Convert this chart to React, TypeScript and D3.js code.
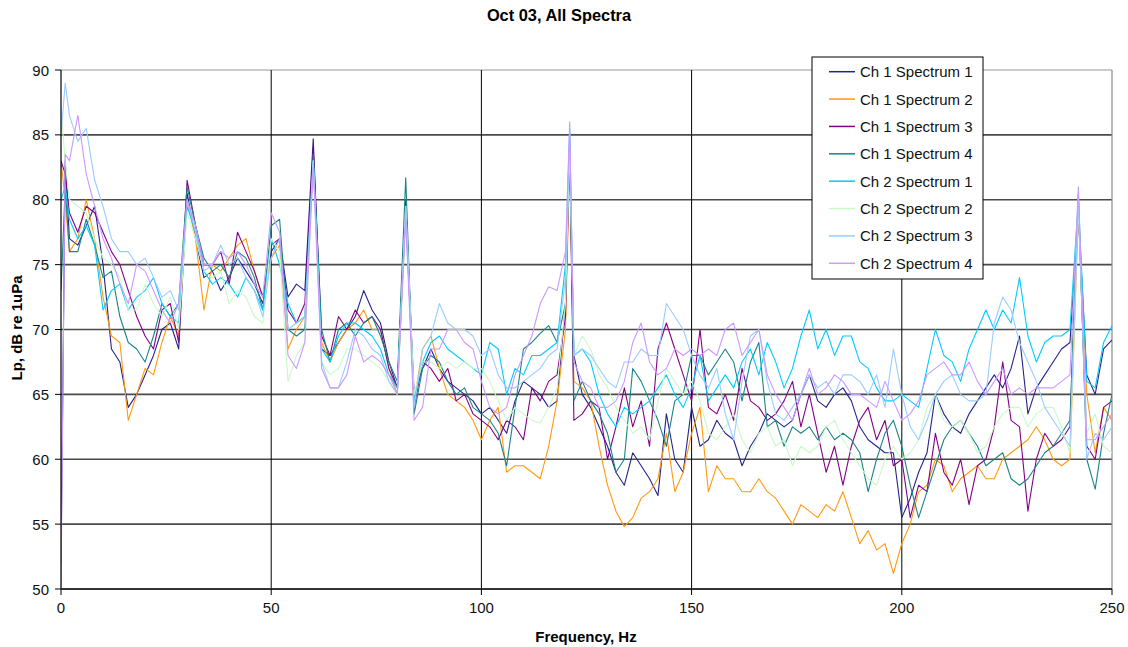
import React from "react";
import * as d3 from "d3";

// Frequencies (Hz) shared by every series
const FREQ = [
  0, 1, 2, 4, 6, 8,
  10, 12, 14, 16, 18,
  20, 22, 24, 26, 28,
  30, 32, 34, 36, 38,
  40, 42, 44, 46, 48,
  50, 52, 54, 56, 58,
  60, 62, 64, 66, 68,
  70, 72, 74, 76, 78,
  80, 82, 84, 86, 88,
  90, 92, 94, 96, 98,
  100, 102, 104, 106, 108,
  110, 112, 114, 116, 118,
  120, 121, 122, 124, 126, 128,
  130, 132, 134, 136, 138,
  140, 142, 144, 146, 148,
  150, 152, 154, 156, 158,
  160, 162, 164, 166, 168,
  170, 172, 174, 176, 178,
  180, 182, 184, 186, 188,
  190, 192, 194, 196, 198,
  200, 202, 204, 206, 208,
  210, 212, 214, 216, 218,
  220, 222, 224, 226, 228,
  230, 232, 234, 236, 238,
  240, 242, 244, 246, 248,
  250,
];

const CH1_S1 = [
  52, 83, 77, 76.5, 78, 79.5,
  75, 68.5, 67.5, 64, 65,
  66.5, 68, 70, 70.5, 68.5,
  80.5, 77, 74, 74.5, 73,
  74, 75.5, 74.5, 73.5, 72,
  76, 77, 72.5, 73.5, 73,
  84.7, 68.5, 68, 69, 70,
  71, 73, 71.5, 70.5, 67.5,
  65.5, 79.5, 65, 67, 68.5,
  67, 66, 65.5, 65, 64.5,
  63.5, 64, 63, 62, 64.5,
  66, 65.5, 65, 64, 64.5,
  72, 84, 68, 65, 64, 62.5,
  61, 59, 58, 60.5, 59.5,
  58.5, 57.2, 63.5, 60, 59,
  64, 61, 61.5, 63, 62,
  61.5, 59.5, 61, 62, 63.5,
  63, 62.5, 63, 65, 66.5,
  64.5, 64, 65, 65.5, 64.5,
  62.5, 61.5, 61, 60.5, 60.5,
  55.5, 57, 59, 60.5, 65,
  63.5, 62.5, 62, 63.5, 64.5,
  65.5, 66.5, 65.5, 67, 69.5,
  63.5, 65.5, 66.5, 67.5, 68.5,
  69, 79, 66.5, 65, 68.5,
  69.2,
];

const CH1_S2 = [
  83, 80, 76, 77, 80, 77,
  72.5, 69.5, 69, 63, 65,
  67, 66.5, 69, 71, 69.5,
  80, 77, 71.5, 75, 74.5,
  75.5, 76.5, 77, 74.5, 72.5,
  75.5, 76.5, 68.5, 70, 71,
  83, 69, 67.5, 69, 70,
  70.5, 71.5, 70, 70, 67,
  65, 79, 64.5, 68.5, 69.5,
  67, 65, 64.5, 64, 63,
  61.5, 63, 64, 59, 59.5,
  59.5, 59, 58.5, 61, 64.5,
  70, 83, 66, 65.5, 64.5, 61,
  58, 56, 54.8, 55.5, 57,
  57.5, 58.5, 62, 57.5, 59,
  62, 64, 57.5, 59.5, 58.5,
  58.5, 57.5, 57.5, 58.5, 57.5,
  57, 56, 55, 56.5, 56,
  55.5, 56.5, 56, 57.5, 55.5,
  53.5, 54.5, 53, 53.5, 51.2,
  53.5, 55, 57.5, 58, 60,
  59.5, 57.5, 58.5, 59, 59.5,
  58.5, 58.5, 60, 60.5, 61,
  61.5, 62.5, 61.5, 60, 59.5,
  60, 79, 65, 60.5, 64,
  63,
];

const CH1_S3 = [
  83, 82, 79, 77.5, 79.5, 79,
  77.5, 76, 75, 73, 71,
  69.5, 68.5, 71.5, 72, 69,
  81.5, 78, 75, 75, 76,
  73.5, 77.5, 76, 74.5, 72.5,
  76.5, 77, 71.5, 70.5, 72,
  84, 69.5, 68, 71, 70,
  71.5, 70.5, 71, 70, 67,
  65.5, 80, 64, 67.5, 67,
  66, 67, 64.5, 65, 63.5,
  63, 62.5, 61.5, 63, 62.5,
  61.5, 65.5, 64.5, 66, 66.5,
  71, 84, 63, 63.5, 64.5, 64,
  60, 62.5, 65.5, 62.5, 64.5,
  61, 68.5, 70.5, 68.5, 66.5,
  64.5, 70, 64, 63.5, 65,
  63, 67, 64.5, 64, 63,
  63.5, 64.5, 66, 62.5, 65,
  62, 59, 61, 58, 61,
  63, 64, 61.5, 63, 59.5,
  60, 55.5, 58, 57.5, 62,
  59, 58, 60, 56.5, 59.5,
  60, 62.5, 67.5, 63, 62.5,
  56, 60, 62, 61, 61.5,
  62.5, 79.5, 61, 60, 64,
  64.5,
];

const CH1_S4 = [
  73, 81, 76, 76, 78.5, 76.5,
  74, 74.5, 71, 69, 68.5,
  67.5, 69.5, 72, 71, 72,
  81, 78, 75.5, 74.5, 75,
  74, 76, 75.5, 74, 71.5,
  78, 78.5, 70, 69.5, 70,
  83.5, 70, 67.5, 70, 70.5,
  69.5, 70.5, 71, 69.5, 67.5,
  66, 81.7, 63.5, 67, 68,
  67.5, 66, 65, 65.5, 64,
  63.5, 63, 62, 59.5, 64,
  68.5, 69, 69.7, 70.3, 69,
  72, 84.5, 64.5, 66, 64.5, 63.5,
  62, 59, 60, 67, 66,
  64.5, 63, 61, 64.5, 65,
  68, 68, 66.5, 67.5, 68.5,
  67.5, 64.5, 67.5, 69, 62.5,
  63, 61, 62.5, 62, 62.5,
  61.5, 62.5, 61.5, 62, 61.5,
  60.5, 57.5, 60, 62, 63,
  61, 58, 55.5, 57.5, 59.5,
  61.5, 62.5, 63, 62, 61,
  59.5, 60, 60.5, 58.5, 58,
  58.5, 59.5, 60.5, 61, 62,
  63, 80.5, 60, 57.7, 62,
  65,
];

const CH2_S1 = [
  80, 81, 78.5, 77, 78, 76.5,
  71.5, 73, 73.5, 71.5, 72.5,
  73, 74, 72, 71, 70.5,
  79.5, 77.5, 74.5, 73.5, 74,
  73.5, 72.5, 74, 73, 71.5,
  77, 75, 72, 70.5, 71,
  83, 68.5, 67.5, 69.5, 70.5,
  70.5, 70, 69.5, 68.5, 66.5,
  65.5, 79, 64.5, 67.5, 69,
  69.5, 68.5, 68, 67.5, 67,
  66.5, 69, 68.5, 65, 67,
  66.5, 68, 68, 68.5, 69,
  75, 85.5, 68, 68.5, 67.5, 65,
  63.5, 62.5, 64, 63.5, 64,
  64.5, 65.5, 66.5, 65, 64,
  65.5, 68, 64.5, 65.5, 66.5,
  65.5, 67.5, 68.5, 66.5, 69,
  67.5, 65.5, 67, 69.5, 71.5,
  68.5, 70, 68, 69.5, 69.5,
  67.5, 67, 65.5, 64.5, 64.5,
  65, 64.5, 64, 67, 70,
  68, 67.5, 66, 68.5, 70,
  71.5, 70, 71.5, 70.5, 74,
  69.5, 67.5, 69, 69.5, 69.5,
  70, 80, 66, 65.5, 69,
  70.3,
];

const CH2_S2 = [
  87, 83, 80, 79.5, 79, 77,
  75.5, 75, 74, 71.5, 71.5,
  73.5, 72, 71, 72.5, 70,
  79, 77, 74.5, 74, 74.5,
  72, 73, 72.5, 71, 70.5,
  77, 76, 66, 68, 69,
  83, 67.5, 66.5, 67, 68.5,
  68.5, 68, 67.5, 67, 66,
  65, 79.5, 65, 67.5, 67.5,
  67, 67.5, 67, 67.5, 67,
  67, 66, 64.5, 63, 64,
  63.5, 63, 62.8, 64, 65.5,
  72, 84, 68, 69.5, 68.5, 66.5,
  65.5, 64, 63, 62, 62.5,
  61.5, 64.5, 67, 66, 65,
  66, 64.5, 62, 61.5, 62.5,
  63.5, 61.5, 60.5, 62, 62.5,
  61, 61.5, 59.5, 61, 60.5,
  61, 62.5, 63, 61.5, 60.5,
  59.5, 58.5, 58, 60, 61,
  60, 60.5, 61.5, 64, 65,
  63, 62.5, 63, 62, 60.5,
  61, 62.5, 63.5, 64, 64,
  62.5, 63.5, 64, 64, 62.5,
  60.5, 79.5, 62, 63.5, 61,
  60.5,
];

const CH2_S3 = [
  85, 89, 86.5, 84.5, 85.5, 81.5,
  79.5, 77, 76, 76, 75,
  75.5, 74, 72.5, 73, 71.5,
  80, 77.5, 74.5, 75, 76.5,
  75, 75.5, 74, 73, 71,
  75.5, 77, 70, 70.5, 71,
  83, 67.5, 65.5, 65.5, 67.5,
  70, 69.5, 68.5, 68, 66,
  65, 79.5, 64, 68.5, 69.5,
  72, 70.5, 70, 70, 69.5,
  68, 68.5, 66.5, 65.5, 65.5,
  66, 66.5, 67, 68, 68.5,
  74, 85, 68, 68.5, 68, 67,
  66, 65.5, 67.5, 67.5, 68.5,
  68, 68, 72, 71, 70,
  68, 66.5, 65.5, 67, 63.5,
  61.5, 66, 69.5, 70, 66,
  63.5, 63, 64, 65, 66.5,
  65.5, 66, 65, 66.5, 66.5,
  66, 65, 66.5, 64, 68.5,
  65, 62.5, 61.5, 63, 65,
  66, 66.5, 65, 64.5, 64.5,
  65, 70.5, 72.5, 71.5, 69,
  67.5, 66, 64, 63, 62,
  61, 80, 60, 62, 61.5,
  62.5,
];

const CH2_S4 = [
  50, 83.5, 83, 86.5, 82, 79.5,
  77, 75.5, 73.5, 72, 75,
  74.5, 73, 71.5, 70.5, 72,
  80, 78, 75, 75, 76,
  75.5, 76, 75, 73.5, 72.5,
  79, 77.5, 68, 67, 69,
  82.5, 67, 65.5, 65.5, 66.5,
  69.5, 67.5, 68, 67.5, 66.5,
  65, 78.5, 63, 64, 68.5,
  68.5, 70, 70, 69, 68.5,
  66, 64, 63.5, 64, 66.5,
  68, 69.5, 72, 73.3, 73,
  76, 86, 67.5, 66, 65.5, 64,
  64, 64.5, 66, 69, 70.5,
  67.5, 66.5, 67, 68.5, 68,
  68.5, 68, 68.5, 68, 70,
  70.5, 68, 69, 70, 66.5,
  65, 64, 63, 65, 67,
  65, 65.5, 66.5, 66, 65,
  65, 64.5, 64, 66, 64.5,
  63, 63.5, 64.5, 66.5, 67,
  67.5, 66.5, 66.5, 67.5, 66,
  65, 66, 67, 65, 65.5,
  65, 65.5, 65.5, 65.5, 66,
  66.5, 81, 61.5, 61.5, 62.5,
  63.5,
];

const SERIES_NAMES = [
  "Ch 1 Spectrum 1",
  "Ch 1 Spectrum 2",
  "Ch 1 Spectrum 3",
  "Ch 1 Spectrum 4",
  "Ch 2 Spectrum 1",
  "Ch 2 Spectrum 2",
  "Ch 2 Spectrum 3",
  "Ch 2 Spectrum 4",
];
const SERIES_VALUES = [CH1_S1, CH1_S2, CH1_S3, CH1_S4, CH2_S1, CH2_S2, CH2_S3, CH2_S4];
const SERIES_COLORS = [
  "#24248c",
  "#ff9a10",
  "#850085",
  "#1a8585",
  "#00ccff",
  "#c8fac8",
  "#99ccff",
  "#cc99ff",
];

const X_TICKS = [0, 50, 100, 150, 200, 250];
const Y_TICKS = [50, 55, 60, 65, 70, 75, 80, 85, 90];

const TITLE = "Oct 03, All Spectra";
const X_LABEL = "Frequency, Hz";
const Y_LABEL = "Lp, dB re 1uPa";

export default function App() {
  const W = 1128;
  const H = 647;
  const left = 61;
  const right = 1112;
  const top = 70;
  const bottom = 589;
  const font = "'Liberation Sans', Arial, Helvetica, sans-serif";

  const x = d3.scaleLinear().domain([0, 250]).range([left, right]);
  const y = d3.scaleLinear().domain([50, 90]).range([bottom, top]);

  const line = d3
    .line<[number, number]>()
    .x((d) => x(d[0]))
    .y((d) => y(d[1]));

  const legendX = 812;
  const legendY = 57;
  const legendW = 171;
  const legendH = 222;
  const rowGap = 27.37;

  return (
    <svg
      width={W}
      height={H}
      style={{ position: "absolute", left: 0, top: 0, background: "#fff" }}
      fontFamily={font}
    >
      <rect x={0} y={0} width={W} height={H} fill="#fff" />
      <defs>
        <clipPath id="plotclip">
          <rect x={left} y={top - 2} width={right - left} height={bottom - top + 4} />
        </clipPath>
      </defs>

      {/* horizontal gridlines */}
      {Y_TICKS.filter((t) => t > 50 && t < 90).map((t) => (
        <line
          key={"hg" + t}
          x1={left}
          x2={right}
          y1={y(t)}
          y2={y(t)}
          stroke="#4a4a4a"
          strokeWidth={1.6}
        />
      ))}
      {/* top and right border */}
      <line x1={left} x2={right} y1={top} y2={top} stroke="#9a9a9a" strokeWidth={1.2} />
      <line x1={right} x2={right} y1={top} y2={bottom} stroke="#8a8a8a" strokeWidth={1.2} />
      {/* vertical gridlines */}
      {X_TICKS.filter((t) => t > 0 && t < 250).map((t) => (
        <line
          key={"vg" + t}
          x1={x(t)}
          x2={x(t)}
          y1={top}
          y2={bottom}
          stroke="#000"
          strokeWidth={1}
        />
      ))}

      {/* series */}
      <g clipPath="url(#plotclip)">
        {SERIES_VALUES.map((vals, i) => {
          const pts: [number, number][] = FREQ.map((f, j) => [f, vals[j]] as [number, number]).filter(
            (p) => p[1] !== undefined
          );
          return (
            <path
              key={"s" + i}
              d={line(pts) || ""}
              fill="none"
              stroke={SERIES_COLORS[i]}
              strokeWidth={1.1}
              strokeLinejoin="round"
            />
          );
        })}
      </g>

      {/* axes */}
      <line x1={left} x2={left} y1={top} y2={bottom} stroke="#000" strokeWidth={1.2} />
      <line x1={left} x2={right} y1={bottom} y2={bottom} stroke="#333" strokeWidth={1.8} />
      {Y_TICKS.map((t) => (
        <g key={"yt" + t}>
          <line x1={left - 6} x2={left} y1={y(t)} y2={y(t)} stroke="#000" strokeWidth={1} />
          <text
            x={left - 12}
            y={y(t)}
            textAnchor="end"
            dominantBaseline="central"
            fontSize={15}
            fill="#111"
          >
            {t}
          </text>
        </g>
      ))}
      {X_TICKS.map((t) => (
        <g key={"xt" + t}>
          <line x1={x(t)} x2={x(t)} y1={bottom} y2={bottom + 6} stroke="#000" strokeWidth={1} />
          <text x={x(t)} y={613} textAnchor="middle" fontSize={15} fill="#111">
            {t}
          </text>
        </g>
      ))}

      {/* titles */}
      <text x={559} y={21} textAnchor="middle" fontSize={16.4} fontWeight="bold" fill="#000">
        {TITLE}
      </text>
      <text x={586} y={642} textAnchor="middle" fontSize={15} fontWeight="bold" fill="#000">
        {X_LABEL}
      </text>
      <text
        transform={`translate(16,328) rotate(-90)`}
        textAnchor="middle"
        dominantBaseline="central"
        fontSize={15}
        fontWeight="bold"
        fill="#000"
      >
        {Y_LABEL}
      </text>

      {/* legend */}
      <rect
        x={legendX}
        y={legendY}
        width={legendW}
        height={legendH}
        fill="#fff"
        stroke="#000"
        strokeWidth={1}
      />
      {SERIES_NAMES.map((name, i) => {
        const cy = legendY + 14.7 + i * rowGap;
        return (
          <g key={"lg" + i}>
            <line
              x1={legendX + 17}
              x2={legendX + 43}
              y1={cy}
              y2={cy}
              stroke={SERIES_COLORS[i]}
              strokeWidth={1.5}
            />
            <text x={legendX + 48} y={cy} dominantBaseline="central" fontSize={15} fill="#111">
              {name}
            </text>
          </g>
        );
      })}
    </svg>
  );
}
